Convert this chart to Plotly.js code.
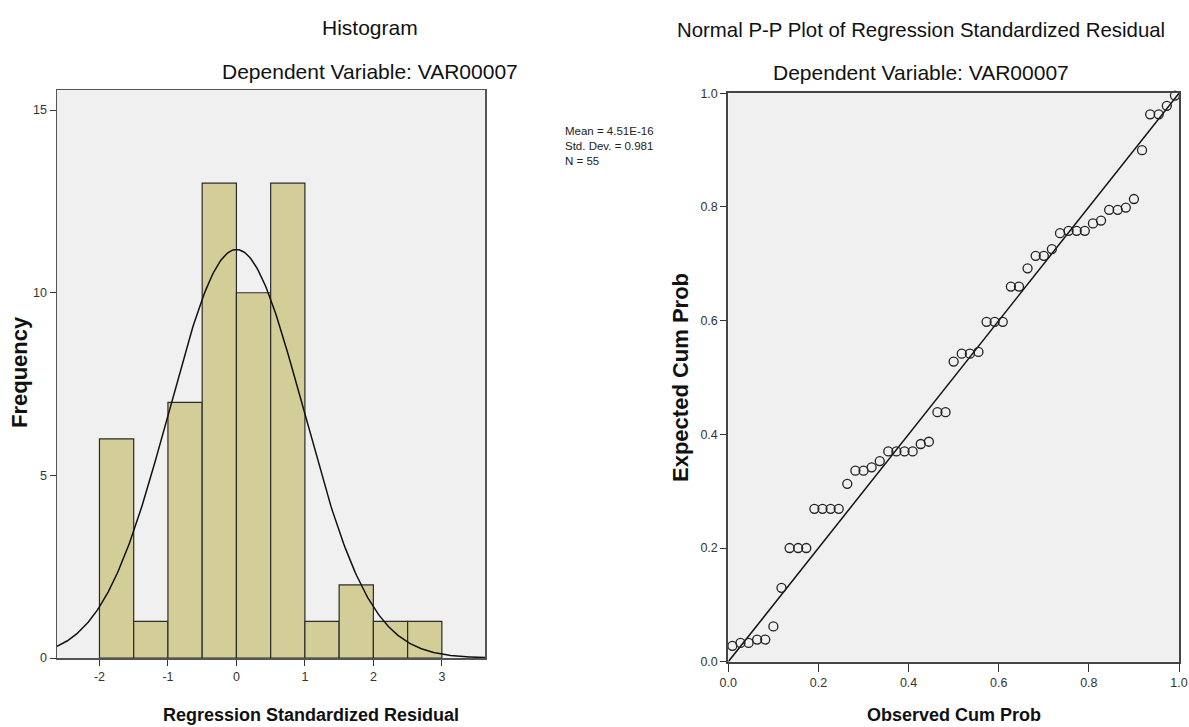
<!DOCTYPE html>
<html>
<head>
<meta charset="utf-8">
<script src="https://cdn.plot.ly/plotly-3.0.1.min.js"></script>
<style>html,body{margin:0;padding:0;background:#fff;}#chart{width:1189px;height:727px;}</style>
</head>
<body>
<div id="chart"></div>
<script>
// ---- Histogram data (bins of width 0.5) ----
const binStarts = [-2.0, -1.5, -1.0, -0.5, 0.0, 0.5, 1.0, 1.5, 2.0, 2.5];
const binCounts = [6, 1, 7, 13, 10, 13, 1, 2, 1, 1];
const histTicks = [-2, -1, 0, 1, 2, 3];
const freqTicks = [0, 5, 10, 15];
const statMean = 4.51e-16;
const statSD = 0.981;
const statN = 55;

// ---- P-P plot data ----
const observedCumProb = [
  0.009, 0.027, 0.045, 0.064, 0.082, 0.100, 0.118, 0.136, 0.155, 0.173,
  0.191, 0.209, 0.227, 0.245, 0.264, 0.282, 0.300, 0.318, 0.336, 0.355,
  0.373, 0.391, 0.409, 0.427, 0.445, 0.464, 0.482, 0.500, 0.518, 0.536,
  0.555, 0.573, 0.591, 0.609, 0.627, 0.645, 0.664, 0.682, 0.700, 0.718,
  0.736, 0.755, 0.773, 0.791, 0.809, 0.827, 0.845, 0.864, 0.882, 0.900,
  0.918, 0.936, 0.955, 0.973, 0.991
];
const expectedCumProb = [
  0.028, 0.033, 0.033, 0.039, 0.039, 0.062, 0.130, 0.200, 0.200, 0.200,
  0.269, 0.269, 0.269, 0.269, 0.313, 0.336, 0.336, 0.342, 0.353, 0.370,
  0.370, 0.370, 0.370, 0.383, 0.387, 0.439, 0.439, 0.528, 0.542, 0.542,
  0.545, 0.598, 0.598, 0.598, 0.660, 0.660, 0.692, 0.714, 0.714, 0.726,
  0.754, 0.758, 0.758, 0.758, 0.771, 0.776, 0.795, 0.795, 0.799, 0.814,
  0.900, 0.963, 0.963, 0.978, 0.996
];
const ppTicks = [0, 0.2, 0.4, 0.6, 0.8, 1.0];
const diagX = [0, 1];
const diagY = [0, 1];

// ---- Texts ----
const histTitle = "Histogram";
const depVar = "Dependent Variable: VAR00007";
const ppTitle = "Normal P-P Plot of Regression Standardized Residual";
const histXTitle = "Regression Standardized Residual";
const histYTitle = "Frequency";
const ppXTitle = "Observed Cum Prob";
const ppYTitle = "Expected Cum Prob";
const statsText = "Mean = 4.51E-16<br>Std. Dev. = 0.981<br>N = 55";

// Fitted normal curve from the stated statistics
const binWidth = 0.5;
const xRange = [-2.62, 3.63];
const curveX = [], curveY = [];
for (let i = 0; i <= 300; i++) {
  const x = xRange[0] + (xRange[1] - xRange[0]) * i / 300;
  curveX.push(x);
  curveY.push(statN * binWidth / (statSD * Math.sqrt(2 * Math.PI)) *
    Math.exp(-0.5 * Math.pow((x - statMean) / statSD, 2)));
}
const binCenters = binStarts.map(s => s + binWidth / 2);

const W = 1189, H = 727;
const px = v => v / W;
const py = v => 1 - v / H;

const NARROW = "Liberation Sans Narrow, Arial Narrow, Liberation Sans, Arial, sans-serif";
const WIDE = "Liberation Sans, Arial, sans-serif";

const traces = [
  {
    type: "bar", x: binCenters, y: binCounts, width: binWidth,
    marker: {color: "#D3CE97", line: {color: "#2b2b2b", width: 1.2}},
    xaxis: "x", yaxis: "y", hoverinfo: "skip"
  },
  {
    type: "scatter", mode: "lines", x: curveX, y: curveY,
    line: {color: "#111", width: 1.5}, xaxis: "x", yaxis: "y", hoverinfo: "skip"
  },
  {
    type: "scatter", mode: "lines", x: diagX, y: diagY,
    line: {color: "#111", width: 1.5}, xaxis: "x2", yaxis: "y2", hoverinfo: "skip"
  },
  {
    type: "scatter", mode: "markers", x: observedCumProb, y: expectedCumProb,
    marker: {symbol: "circle-open", size: 9, color: "#222", line: {width: 1.3, color: "#222"}},
    xaxis: "x2", yaxis: "y2", hoverinfo: "skip", cliponaxis: false
  }
];

const tickFont = {family: NARROW, size: 12.5, color: "#333"};
const axBase = {
  showgrid: false, zeroline: false, showline: true, mirror: true,
  linecolor: "#555", linewidth: 1.5, ticks: "outside", ticklen: 6,
  tickcolor: "#333", tickwidth: 1, tickfont: tickFont, fixedrange: true
};

const layout = {
  width: W, height: H,
  margin: {l: 0, r: 0, t: 0, b: 0},
  paper_bgcolor: "#ffffff", plot_bgcolor: "#F0F0F0",
  showlegend: false,
  xaxis: Object.assign({}, axBase, {
    domain: [px(57), px(485)], range: xRange, tickvals: histTicks,
    ticktext: histTicks.map(String), anchor: "y"
  }),
  yaxis: Object.assign({}, axBase, {
    domain: [py(658), py(90)], range: [0, 15.55], tickvals: freqTicks, anchor: "x"
  }),
  xaxis2: Object.assign({}, axBase, {
    domain: [px(728.3), px(1179)], range: [0, 1], tickvals: ppTicks,
    ticktext: ppTicks.map(v => v.toFixed(1)), anchor: "y2",
    linecolor: "#444", linewidth: 2, ticklen: 8
  }),
  yaxis2: Object.assign({}, axBase, {
    domain: [py(661.7), py(93.3)], range: [0, 1], tickvals: ppTicks,
    ticktext: ppTicks.map(v => v.toFixed(1)), anchor: "x2",
    linecolor: "#444", linewidth: 2
  }),
  annotations: [
    {text: histTitle, x: px(370), y: py(27), xref: "paper", yref: "paper", showarrow: false,
     xanchor: "center", yanchor: "middle", font: {family: NARROW, size: 21, color: "#111"}},
    {text: depVar, x: px(370), y: py(72), xref: "paper", yref: "paper", showarrow: false,
     xanchor: "center", yanchor: "middle", font: {family: NARROW, size: 21, color: "#111"}},
    {text: ppTitle, x: px(921), y: py(30), xref: "paper", yref: "paper", showarrow: false,
     xanchor: "center", yanchor: "middle", font: {family: NARROW, size: 20.4, color: "#111"}},
    {text: depVar, x: px(921), y: py(73), xref: "paper", yref: "paper", showarrow: false,
     xanchor: "center", yanchor: "middle", font: {family: NARROW, size: 21, color: "#111"}},
    {text: histXTitle, x: px(311), y: py(715), xref: "paper", yref: "paper", showarrow: false,
     xanchor: "center", yanchor: "middle", font: {family: NARROW, size: 18, color: "#111", weight: "bold"}},
    {text: ppXTitle, x: px(954), y: py(715), xref: "paper", yref: "paper", showarrow: false,
     xanchor: "center", yanchor: "middle", font: {family: NARROW, size: 18, color: "#111", weight: "bold"}},
    {text: histYTitle, x: px(19), y: py(372), xref: "paper", yref: "paper", showarrow: false,
     textangle: -90, xanchor: "center", yanchor: "middle", font: {family: WIDE, size: 22, color: "#111", weight: "bold"}},
    {text: ppYTitle, x: px(680), y: py(378), xref: "paper", yref: "paper", showarrow: false,
     textangle: -90, xanchor: "center", yanchor: "middle", font: {family: WIDE, size: 22, color: "#111", weight: "bold"}},
    {text: statsText, x: px(563), y: py(123), xref: "paper", yref: "paper", showarrow: false,
     xanchor: "left", yanchor: "top", align: "left", font: {family: NARROW, size: 11.5, color: "#222"}}
  ]
};

Plotly.newPlot("chart", traces, layout, {displayModeBar: false, staticPlot: true});
</script>
</body>
</html>
